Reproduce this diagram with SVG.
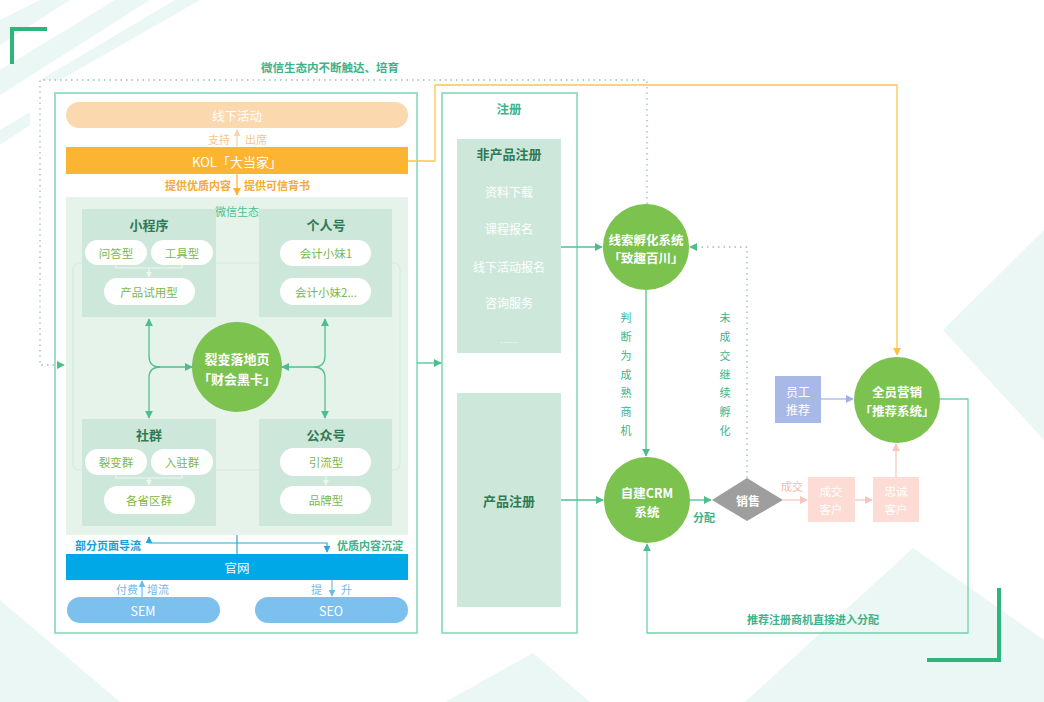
<svg xmlns="http://www.w3.org/2000/svg" width="1044" height="702" viewBox="0 0 1044 702">
<defs>
<style>
text { font-family: "Noto Sans CJK SC", "Noto Sans", sans-serif; }
.c { text-anchor: middle; dominant-baseline: central; }
.deco { fill: #eaf7f4; }
.frame { fill: none; stroke: #7ed8b3; stroke-width: 1.5; }
.sub { fill: #cde8da; }
.pill { fill: #ffffff; }
.pt { fill: #7bb84c; font-size: 11.5px; }
.st { fill: #2f7a55; font-size: 13px; font-weight: bold; }
.wt { fill: #ffffff; }
.ln { fill: none; stroke: #52c08f; stroke-width: 1.3; }
.lnw { fill: none; stroke: #56bf8c; stroke-width: 1.3; }
.dot { fill: none; stroke: #9bbfb2; stroke-width: 1.3; stroke-dasharray: 1.5 4; }
.gt { fill: #3cb38a; font-size: 11px; }
.circ { fill: #7cc24f; }
</style>
<marker id="ag" viewBox="0 0 10 10" refX="9" refY="5" markerWidth="8" markerHeight="8" orient="auto-start-reverse" markerUnits="userSpaceOnUse"><path d="M0,0 L10,5 L0,10 z" fill="#4dbd8b"/></marker>
<marker id="ao" viewBox="0 0 10 10" refX="9" refY="5" markerWidth="8" markerHeight="8" orient="auto-start-reverse" markerUnits="userSpaceOnUse"><path d="M0,0 L10,5 L0,10 z" fill="#f6b23a"/></marker>
<marker id="ay" viewBox="0 0 10 10" refX="9" refY="5" markerWidth="8" markerHeight="8" orient="auto-start-reverse" markerUnits="userSpaceOnUse"><path d="M0,0 L10,5 L0,10 z" fill="#f9c33e"/></marker>
<marker id="ap" viewBox="0 0 10 10" refX="9" refY="5" markerWidth="7" markerHeight="7" orient="auto-start-reverse" markerUnits="userSpaceOnUse"><path d="M0,0 L10,5 L0,10 z" fill="#fbd3a8"/></marker>
<marker id="ak" viewBox="0 0 10 10" refX="9" refY="5" markerWidth="8" markerHeight="8" orient="auto-start-reverse" markerUnits="userSpaceOnUse"><path d="M0,0 L10,5 L0,10 z" fill="#f7c4bb"/></marker>
<marker id="al" viewBox="0 0 10 10" refX="9" refY="5" markerWidth="8" markerHeight="8" orient="auto-start-reverse" markerUnits="userSpaceOnUse"><path d="M0,0 L10,5 L0,10 z" fill="#9fb0ee"/></marker>
<marker id="ab" viewBox="0 0 10 10" refX="9" refY="5" markerWidth="7" markerHeight="7" orient="auto-start-reverse" markerUnits="userSpaceOnUse"><path d="M0,0 L10,5 L0,10 z" fill="#2aa5dc"/></marker>
<marker id="abl" viewBox="0 0 10 10" refX="9" refY="5" markerWidth="7" markerHeight="7" orient="auto-start-reverse" markerUnits="userSpaceOnUse"><path d="M0,0 L10,5 L0,10 z" fill="#6fb9e6"/></marker>
<marker id="aw" viewBox="0 0 10 10" refX="9" refY="5" markerWidth="6" markerHeight="6" orient="auto-start-reverse" markerUnits="userSpaceOnUse"><path d="M0,0 L10,5 L0,10 z" fill="#eef7f2"/></marker>
</defs>

<rect width="1044" height="702" fill="#ffffff"/>

<g id="background">
  <polygon class="deco" points="0,20 40,0 70,0 0,45"/>
  <polygon class="deco" points="0,70 115,0 150,0 0,95"/>
  <polygon class="deco" points="40,80 175,0 200,0 60,80"/>
  <polygon class="deco" points="0,130 30,112 30,125 0,145"/>
  <polygon class="deco" points="943,330 1044,230 1044,440"/>
  <polygon class="deco" points="0,600 120,702 0,702"/>
  <polygon class="deco" points="533,653 590,702 445,702"/>
  <polygon class="deco" points="913,548 1044,640 1044,702 745,702"/>
  <path d="M12,64 V29 H47" fill="none" stroke="#2db67a" stroke-width="4"/>
  <path d="M999,588 V660 H927" fill="none" stroke="#2db67a" stroke-width="4"/>
</g>

<text x="330" y="67" class="c" fill="#3cb38a" font-size="11.5" font-weight="bold">微信生态内不断触达、培育</text>

<g id="left-panel">
  <rect x="55" y="93" width="362" height="540" class="frame"/>
</g>

<g id="offline">
  <rect x="66" y="102" width="342" height="26" rx="13" fill="#fcd8ae"/>
  <text x="237" y="115" class="c wt" font-size="12.5">线下活动</text>
</g>
<g id="kol">
  <rect x="66" y="147" width="342" height="27" fill="#fbb533"/>
  <text x="237" y="161" class="c wt" font-size="13">KOL「大当家」</text>
</g>

<g id="wechat">
  <rect x="66" y="197" width="342" height="338" fill="#e5f3eb"/>
  <rect x="73" y="263" width="327" height="207" rx="6" fill="none" stroke="#d5ebe0" stroke-width="1.2"/>
  <text x="237" y="211" class="c" fill="#4cbf8f" font-size="11">微信生态</text>
</g>

<g id="miniprogram">
  <rect x="82" y="209" width="134" height="108" class="sub"/>
  <text x="149" y="224" class="c st">小程序</text>
  <rect x="85" y="240" width="62" height="25" rx="12.5" class="pill"/>
  <text x="116" y="253" class="c pt">问答型</text>
  <rect x="151" y="240" width="62" height="25" rx="12.5" class="pill"/>
  <text x="182" y="253" class="c pt">工具型</text>
  <rect x="104" y="278" width="91" height="27" rx="13.5" class="pill"/>
  <text x="149" y="292" class="c pt">产品试用型</text>
</g>
<g id="personal">
  <rect x="259" y="209" width="133" height="108" class="sub"/>
  <text x="326" y="224" class="c st">个人号</text>
  <rect x="280" y="240" width="91" height="26" rx="13" class="pill"/>
  <text x="326" y="253" class="c pt">会计小妹1</text>
  <rect x="280" y="278" width="91" height="27" rx="13.5" class="pill"/>
  <text x="326" y="292" class="c pt">会计小妹2...</text>
</g>
<g id="community">
  <rect x="82" y="419" width="134" height="107" class="sub"/>
  <text x="149" y="434" class="c st">社群</text>
  <rect x="85" y="449" width="62" height="26" rx="13" class="pill"/>
  <text x="116" y="462" class="c pt">裂变群</text>
  <rect x="151" y="449" width="62" height="26" rx="13" class="pill"/>
  <text x="182" y="462" class="c pt">入驻群</text>
  <rect x="104" y="486" width="91" height="28" rx="14" class="pill"/>
  <text x="149" y="500" class="c pt">各省区群</text>
</g>
<g id="official">
  <rect x="259" y="419" width="133" height="107" class="sub"/>
  <text x="326" y="434" class="c st">公众号</text>
  <rect x="280" y="448" width="91" height="28" rx="14" class="pill"/>
  <text x="326" y="462" class="c pt">引流型</text>
  <rect x="280" y="486" width="91" height="28" rx="14" class="pill"/>
  <text x="326" y="500" class="c pt">品牌型</text>
</g>
<g id="fission">
  <circle cx="237" cy="367" r="45" class="circ"/>
  <text x="237" y="358" class="c wt" font-size="13" font-weight="bold">裂变落地页</text>
  <text x="237" y="378" class="c wt" font-size="13" font-weight="bold">「财会黑卡」</text>
</g>

<g id="website">
  <rect x="66" y="554" width="342" height="26" fill="#00a8e8"/>
  <text x="237" y="567" class="c wt" font-size="12.5">官网</text>
</g>
<g id="sem">
  <rect x="67" y="597" width="153" height="26" rx="13" fill="#7cc0ee"/>
  <text x="143" y="610" class="c wt" font-size="12.5">SEM</text>
</g>
<g id="seo">
  <rect x="255" y="597" width="153" height="26" rx="13" fill="#7cc0ee"/>
  <text x="331" y="610" class="c wt" font-size="12.5">SEO</text>
</g>

<g id="register">
  <rect x="442" y="93" width="135" height="540" class="frame"/>
  <text x="509" y="108" class="c" fill="#3cb38a" font-size="12.5" font-weight="bold">注册</text>
</g>
<g id="non-product">
  <rect x="457" y="139" width="104" height="214" class="sub"/>
  <text x="509" y="153" class="c st" font-size="12.5">非产品注册</text>
  <text x="509" y="191" class="c wt" font-size="12">资料下载</text>
  <text x="509" y="228" class="c wt" font-size="12">课程报名</text>
  <text x="509" y="266" class="c wt" font-size="12">线下活动报名</text>
  <text x="509" y="302" class="c wt" font-size="12">咨询服务</text>
  <text x="509" y="342" class="c wt" font-size="9">……</text>
</g>
<g id="product">
  <rect x="457" y="393" width="104" height="214" class="sub"/>
  <text x="509" y="500" class="c st" font-size="12.5">产品注册</text>
</g>

<g id="lead">
  <circle cx="646" cy="247" r="43" class="circ"/>
  <text x="646" y="239" class="c wt" font-size="12.5" font-weight="bold">线索孵化系统</text>
  <text x="646" y="257" class="c wt" font-size="12.5" font-weight="bold">「致趣百川」</text>
</g>
<g id="crm">
  <circle cx="647" cy="500" r="43" class="circ"/>
  <text x="647" y="492" class="c wt" font-size="12.5" font-weight="bold">自建CRM</text>
  <text x="647" y="511" class="c wt" font-size="12.5" font-weight="bold">系统</text>
</g>
<g id="sales">
  <polygon points="712,500 747,478 783,500 747,521" fill="#9e9e9e"/>
  <text x="748" y="500" class="c wt" font-size="12" font-weight="bold">销售</text>
</g>
<g id="deal">
  <rect x="808" y="477" width="47" height="45" fill="#fcdcd4"/>
  <text x="831" y="491" class="c wt" font-size="11.5">成交</text>
  <text x="831" y="509" class="c wt" font-size="11.5">客户</text>
</g>
<g id="loyal">
  <rect x="873" y="477" width="46" height="45" fill="#fcdcd4"/>
  <text x="896" y="491" class="c wt" font-size="11.5">忠诚</text>
  <text x="896" y="509" class="c wt" font-size="11.5">客户</text>
</g>
<g id="staff">
  <rect x="775" y="376" width="46" height="47" fill="#a9b9e7"/>
  <text x="798" y="391" class="c wt" font-size="12">员工</text>
  <text x="798" y="409" class="c wt" font-size="12">推荐</text>
</g>
<g id="referral">
  <circle cx="897" cy="400" r="43" class="circ"/>
  <text x="897" y="391" class="c wt" font-size="12.5" font-weight="bold">全员营销</text>
  <text x="897" y="410" class="c wt" font-size="12.5" font-weight="bold">「推荐系统」</text>
</g>

<g id="connectors">
  <!-- dotted loop: lead system back into WeChat ecosystem -->
  <path d="M647,204 V80 H40 V365 H64" class="dot" marker-end="url(#ag)"/>
  <!-- offline / KOL -->
  <path d="M237,147 V130" fill="none" stroke="#fbd3a8" stroke-width="1.2" marker-end="url(#ap)"/>
  <text x="230" y="139" fill="#f9c58c" font-size="11" text-anchor="end" dominant-baseline="central">支持</text>
  <text x="245" y="139" fill="#f9c58c" font-size="11" dominant-baseline="central">出席</text>
  <path d="M237,174 V195" fill="none" stroke="#f6b23a" stroke-width="1.2" marker-end="url(#ao)"/>
  <text x="231" y="185" fill="#f4a938" font-size="11" font-weight="bold" text-anchor="end" dominant-baseline="central">提供优质内容</text>
  <text x="244" y="185" fill="#f4a938" font-size="11" font-weight="bold" dominant-baseline="central">提供可信背书</text>
  <!-- KOL to referral system -->
  <path d="M408,161 H435 V85 H897 V355" fill="none" stroke="#f9c84a" stroke-width="1.3" marker-end="url(#ay)"/>
  <!-- mini program bracket -->
  <path d="M116,265 V268 H182 V265" fill="none" stroke="#eef7f2" stroke-width="1.2"/>
  <path d="M149,268 V277" fill="none" stroke="#eef7f2" stroke-width="1.2" marker-end="url(#aw)"/>
  <path d="M116,475 V478 H182 V475" fill="none" stroke="#eef7f2" stroke-width="1.2"/>
  <path d="M149,478 V485" fill="none" stroke="#eef7f2" stroke-width="1.2" marker-end="url(#aw)"/>
  <path d="M326,476 V485" fill="none" stroke="#eef7f2" stroke-width="1.2" marker-end="url(#aw)"/>
  <!-- fission page arrows -->
  <path d="M192,367 H160 Q149,367 149,356 V319" class="lnw" marker-start="url(#ag)" marker-end="url(#ag)"/>
  <path d="M160,367 Q149,367 149,378 V418" class="lnw" marker-end="url(#ag)"/>
  <path d="M282,367 H314 Q325,367 325,356 V319" class="lnw" marker-start="url(#ag)" marker-end="url(#ag)"/>
  <path d="M314,367 Q325,367 325,378 V418" class="lnw" marker-end="url(#ag)"/>
  <!-- website flows -->
  <path d="M237,554 V535" fill="none" stroke="#2aa5dc" stroke-width="1.2"/>
  <path d="M327,552 V543 H149 V537" fill="none" stroke="#2aa5dc" stroke-width="1.2" marker-start="url(#ab)" marker-end="url(#ab)"/>
  <text x="108" y="545" class="c" fill="#1a9fd8" font-size="11" font-weight="bold">部分页面导流</text>
  <text x="370" y="545" class="c" fill="#3cb38a" font-size="11" font-weight="bold">优质内容沉淀</text>
  <path d="M142,597 V581" fill="none" stroke="#6fb9e6" stroke-width="1.2" marker-end="url(#abl)"/>
  <text x="138" y="589" fill="#6fb9e6" font-size="11" text-anchor="end" dominant-baseline="central">付费</text>
  <text x="147" y="589" fill="#6fb9e6" font-size="11" dominant-baseline="central">增流</text>
  <path d="M332,580 V596" fill="none" stroke="#6fb9e6" stroke-width="1.2" marker-end="url(#abl)"/>
  <text x="322" y="589" fill="#6fb9e6" font-size="11" text-anchor="end" dominant-baseline="central">提</text>
  <text x="341" y="589" fill="#6fb9e6" font-size="11" dominant-baseline="central">升</text>
  <!-- left panel to register -->
  <path d="M417,363 H441" class="ln" marker-end="url(#ag)"/>
  <!-- register to systems -->
  <path d="M561,247 H602" class="ln" marker-end="url(#ag)"/>
  <path d="M561,500 H603" class="ln" marker-end="url(#ag)"/>
  <path d="M646,290 V456" class="ln" marker-end="url(#ag)"/>
  <!-- not closed: back to lead system -->
  <path d="M747,478 V247 H690" class="dot" marker-end="url(#ag)"/>
  <text class="gt" font-size="12" text-anchor="middle">
    <tspan x="626" y="322">判</tspan><tspan x="626" y="341">断</tspan><tspan x="626" y="360">为</tspan><tspan x="626" y="379">成</tspan><tspan x="626" y="397">熟</tspan><tspan x="626" y="416">商</tspan><tspan x="626" y="435">机</tspan>
  </text>
  <text class="gt" font-size="12" text-anchor="middle">
    <tspan x="725" y="322">未</tspan><tspan x="725" y="341">成</tspan><tspan x="725" y="360">交</tspan><tspan x="725" y="379">继</tspan><tspan x="725" y="397">续</tspan><tspan x="725" y="416">孵</tspan><tspan x="725" y="435">化</tspan>
  </text>
  <!-- CRM to sales -->
  <path d="M690,500 H711" class="ln" marker-end="url(#ag)"/>
  <text x="704" y="517" class="c gt" font-weight="bold">分配</text>
  <!-- deal chain -->
  <path d="M783,500 H807" fill="none" stroke="#f7c4bb" stroke-width="1.2" marker-end="url(#ak)"/>
  <text x="792" y="486" class="c" fill="#f7b8ae" font-size="11">成交</text>
  <path d="M855,500 H872" fill="none" stroke="#f7c4bb" stroke-width="1.2" marker-end="url(#ak)"/>
  <path d="M896,477 V444" fill="none" stroke="#f7c4bb" stroke-width="1.2" marker-end="url(#ak)"/>
  <!-- staff to referral -->
  <path d="M821,399 H853" fill="none" stroke="#9fb0ee" stroke-width="1.2" marker-end="url(#al)"/>
  <!-- referral back to CRM -->
  <path d="M940,399 H968 V633 H647 V544" fill="none" stroke="#6fd3a8" stroke-width="1.3" marker-end="url(#ag)"/>
  <text x="813" y="619" class="c gt" font-weight="bold">推荐注册商机直接进入分配</text>
</g>
</svg>
